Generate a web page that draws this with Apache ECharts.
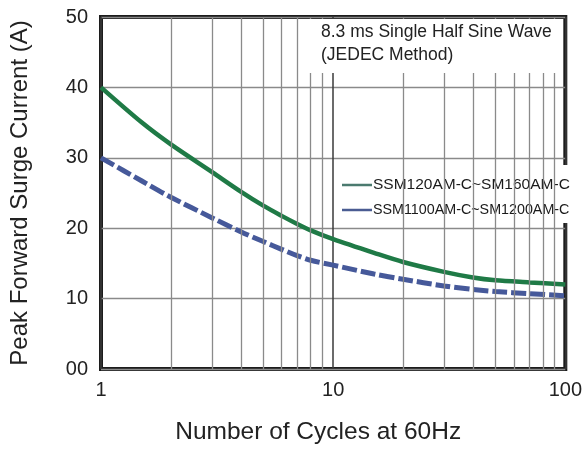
<!DOCTYPE html>
<html>
<head>
<meta charset="utf-8">
<script src="https://cdn.jsdelivr.net/npm/echarts@6/dist/echarts.min.js"></script>
<style>
html,body{margin:0;padding:0;background:#fff;}
#c{width:585px;height:450px;}
</style>
</head>
<body>
<div id="c"></div>
<script>
var cycles = [1, 1.5, 2, 3, 4, 5, 6, 7, 8, 10, 15, 20, 30, 40, 50, 70, 100];
var greenValues = [40, 35.0, 31.9, 28.0, 25.2, 23.2, 21.75, 20.6, 19.7, 18.45, 16.5, 15.2, 13.8, 13.0, 12.6, 12.3, 12.0];
var blueValues = [30, 26.7, 24.4, 21.5, 19.5, 18.1, 17.0, 16.1, 15.45, 14.75, 13.5, 12.75, 11.8, 11.3, 11.0, 10.7, 10.4];
var seriesNames = ['SSM120AM-C~SM160AM-C', 'SSM1100AM-C~SM1200AM-C'];
var minorGridX = [2, 3, 4, 5, 6, 7, 8, 9, 20, 30, 40, 50, 60, 70, 80, 90];
var yTickLabels = {0: '00', 10: '10', 20: '20', 30: '30', 40: '40', 50: '50'};
var annotation = ['8.3 ms Single Half Sine Wave', '(JEDEC Method)'];

function pairs(xs, ys) { return xs.map(function (x, i) { return [x, ys[i]]; }); }

var chart = echarts.init(document.getElementById('c'), null, {renderer: 'canvas'});
chart.setOption({
  backgroundColor: '#fff',
  animation: false,
  textStyle: {fontFamily: 'Liberation Sans, Arial, sans-serif'},
  title: {
    text: annotation.join('\n'),
    left: 305, top: 19,
    padding: [2, 10, 6, 16],
    backgroundColor: '#fff',
    textStyle: {fontSize: 17.5, fontWeight: 'normal', color: '#222', lineHeight: 23, fontFamily: 'Liberation Sans, Arial, sans-serif'}
  },
  legend: {
    orient: 'vertical',
    left: 336, top: 165,
    padding: [12, 2, 6, 6],
    itemGap: 10,
    itemWidth: 30, itemHeight: 2.5,
    icon: 'rect',
    backgroundColor: '#fff',
    formatter: function (name) {
      return name === seriesNames[0] ? '{a|' + name + '}' : '{b|' + name + '}';
    },
    textStyle: {
      color: '#1a1a1a', padding: [0, 0, 0, -4],
      rich: {
        a: {fontSize: 15.5, lineHeight: 18, color: '#1a1a1a'},
        b: {fontSize: 14.3, lineHeight: 18, color: '#1a1a1a'}
      }
    },
    data: [
      {name: seriesNames[0], itemStyle: {color: '#4b7a6f'}},
      {name: seriesNames[1], itemStyle: {color: '#4a5c92'}}
    ]
  },
  grid: {
    left: 101, right: 17, top: 17, bottom: 78,
    show: true, borderColor: '#1c1c1c', borderWidth: 4, backgroundColor: '#fff'
  },
  xAxis: {
    type: 'log', logBase: 10, min: 1, max: 100,
    name: 'Number of Cycles at 60Hz',
    nameLocation: 'middle', nameGap: 51,
    nameTextStyle: {fontSize: 24.5, color: '#222', padding: [0, 30, 0, 0]},
    axisLine: {show: false}, axisTick: {show: false},
    axisLabel: {fontSize: 20, color: '#222', margin: 11},
    splitLine: {show: true, lineStyle: {color: '#3a3a3a', width: 1.5}}
  },
  yAxis: {
    type: 'value', min: 0, max: 50, interval: 10,
    name: 'Peak Forward Surge Current (A)',
    nameLocation: 'middle', nameGap: 69,
    nameTextStyle: {fontSize: 24, color: '#222'},
    axisLine: {show: false}, axisTick: {show: false},
    axisLabel: {fontSize: 20, color: '#222', margin: 13, formatter: function (v) { return yTickLabels[v]; }},
    splitLine: {show: true, lineStyle: {color: '#8a8a8a', width: 1.3}}
  },
  series: [
    {
      name: 'grid', type: 'line', z: 1, silent: true,
      data: pairs(cycles, greenValues), symbol: 'none',
      lineStyle: {opacity: 0},
      markLine: {
        silent: true, symbol: 'none', label: {show: false},
        lineStyle: {color: '#8a8a8a', width: 1.3, type: 'solid'},
        data: minorGridX.map(function (v) { return {xAxis: v}; })
      }
    },
    {
      name: seriesNames[0], type: 'line', z: 3, smooth: 0.3, symbol: 'none',
      data: pairs(cycles, greenValues),
      lineStyle: {color: '#1f7a46', width: 4.5},
      itemStyle: {color: '#4b7a6f'}
    },
    {
      name: seriesNames[1], type: 'line', z: 3, smooth: 0.3, symbol: 'none',
      data: pairs(cycles, blueValues),
      lineStyle: {color: '#46599a', width: 5, type: [15, 4]},
      itemStyle: {color: '#4a5c92'}
    }
  ]
});
</script>
</body>
</html>
